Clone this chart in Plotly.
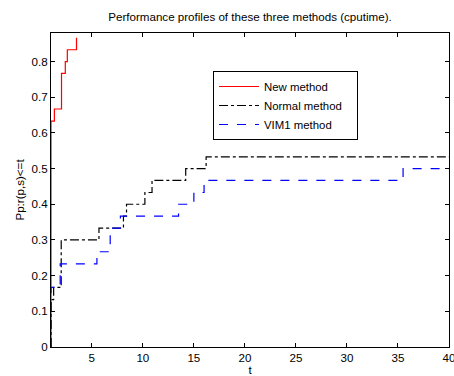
import plotly.graph_objects as go

# Data
new_x = [1, 1, 1.33, 2.03, 2.4, 2.6, 3.5]
new_y = [0, 0.633, 0.667, 0.767, 0.8, 0.833, 0.867]

normal_x = [1, 1, 1.26, 2.0, 5.7, 8.1, 8.4, 10.2, 10.9, 14.2, 16.2, 40]
normal_y = [0, 0.133, 0.167, 0.3, 0.333, 0.367, 0.4, 0.433, 0.467, 0.5, 0.533, 0.533]

vim1_x = [1, 1, 1.9, 5.5, 6.8, 7.8, 13.5, 15.0, 16.0, 35.5, 40]
vim1_y = [0, 0.167, 0.233, 0.267, 0.333, 0.367, 0.4, 0.433, 0.467, 0.5, 0.5]

x_ticks = [5, 10, 15, 20, 25, 30, 35, 40]
y_ticks = [0, 0.1, 0.2, 0.3, 0.4, 0.5, 0.6, 0.7, 0.8]
y_tick_labels = ["0", "0.1", "0.2", "0.3", "0.4", "0.5", "0.6", "0.7", "0.8"]

FONT = "Liberation Sans, Arial, sans-serif"
FS = 11.6

fig = go.Figure()
fig.add_trace(go.Scatter(x=new_x, y=new_y, mode="lines", name="New method",
                         line=dict(color="#ff0000", width=1.2, shape="hv")))
fig.add_trace(go.Scatter(x=normal_x, y=normal_y, mode="lines", name="Normal method\u00a0\u00a0\u00a0",
                         line=dict(color="#000000", width=1.2, shape="hv", dash="dashdot")))
fig.add_trace(go.Scatter(x=vim1_x, y=vim1_y, mode="lines", name="VIM1 method",
                         line=dict(color="#0000ff", width=1.2, shape="hv", dash="dash")))

fig.update_layout(
    template="none",
    width=454, height=376,
    margin=dict(l=51, r=5, t=33, b=29, autoexpand=False),
    paper_bgcolor="white", plot_bgcolor="white",
    font=dict(family=FONT, size=FS, color="black"),
    title=dict(text="Performance profiles of these three methods (cputime).",
               x=0.5, xref="paper", xanchor="center", y=1 - 17/376, yanchor="middle",
               font=dict(family=FONT, size=FS, color="black")),
    showlegend=True,
    legend=dict(x=(213-51)/398, y=(347-71)/314, xanchor="left", yanchor="top",
                bordercolor="black", borderwidth=1, bgcolor="white",
                font=dict(family=FONT, size=11.4, color="black"),
                itemwidth=40, tracegroupgap=0),
)
fig.update_xaxes(range=[1, 40], tickvals=x_ticks, ticks="inside", ticklen=4,
                 tickcolor="black", showline=True, linecolor="black", linewidth=1,
                 mirror="ticks", showgrid=False, zeroline=False, automargin=False,
                 ticklabeloverflow="allow",
                 title=dict(text="t", standoff=2, font=dict(size=FS)))
fig.update_yaxes(range=[0, 0.88], tickvals=y_ticks, ticktext=y_tick_labels,
                 ticks="inside", ticklen=4, tickcolor="black", showline=True,
                 linecolor="black", linewidth=1, mirror="ticks", showgrid=False,
                 zeroline=False, automargin=False,
                 title=dict(text="Pp:r(p,s)<=t", standoff=4, font=dict(size=FS)))

fig.write_html("out.html")
